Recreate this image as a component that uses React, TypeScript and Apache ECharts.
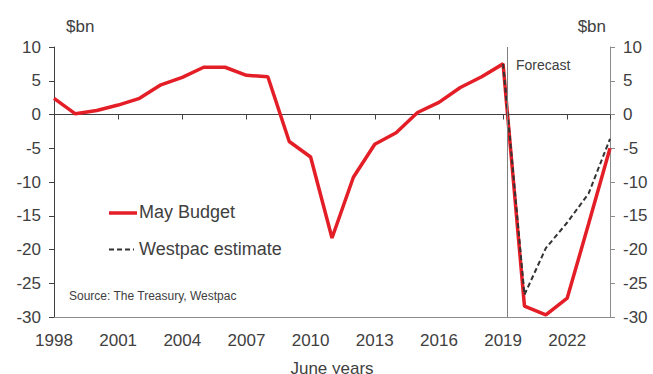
import React, { useEffect, useRef } from "react";
import * as echarts from "echarts";

const years = [
  1998, 1999, 2000, 2001, 2002, 2003, 2004, 2005, 2006, 2007, 2008, 2009, 2010,
  2011, 2012, 2013, 2014, 2015, 2016, 2017, 2018, 2019, 2020, 2021, 2022, 2023,
  2024,
];
const mayBudget = [
  2.4, 0.1, 0.6, 1.4, 2.4, 4.4, 5.5, 7.0, 7.0, 5.8, 5.6, -4.0, -6.3, -18.3,
  -9.3, -4.4, -2.7, 0.3, 1.8, 4.0, 5.6, 7.5, -28.4, -29.7, -27.2, -16.2, -5.0,
];
const westpacYears = [2019, 2020, 2021, 2022, 2023, 2024];
const westpacEstimate = [7.5, -26.7, -19.8, -16.0, -11.7, -3.6];
const forecastStart = 2019.2;
const yTicks = { min: -30, max: 10, interval: 5 };
const legendNames = ["May Budget", "Westpac estimate"];

const FONT = "'Liberation Sans', Arial, sans-serif";
const TXT = "#404040";
const RED = "#e41e26";
const DARK = "#333333";

export default function App() {
  const ref = useRef<HTMLDivElement>(null);
  useEffect(() => {
    if (!ref.current) return;
    const chart = echarts.init(ref.current, null, { renderer: "svg" });
    const yAxisBase = {
      type: "value",
      min: yTicks.min,
      max: yTicks.max,
      interval: yTicks.interval,
      splitLine: { show: false },
      axisTick: { show: true, length: 5 },
      axisLabel: { fontSize: 17, color: TXT, fontFamily: FONT, margin: 13 },
    };
    chart.setOption({
      animation: false,
      textStyle: { fontFamily: FONT },
      grid: { left: 54, right: 43, top: 47, bottom: 57, outerBoundsMode: "none", containLabel: false },
      xAxis: [
        {
          type: "value",
          min: 1998,
          max: 2024,
          interval: 3,
          position: "bottom",
          axisLine: { onZero: false, lineStyle: { color: "#8c8c8c", width: 1 } },
          axisTick: { show: false },
          splitLine: { show: false },
          axisLabel: {
            fontSize: 17,
            color: TXT,
            fontFamily: FONT,
            margin: 15,
            showMaxLabel: false,
            formatter: (v: number) => String(v),
          },
          name: "June years",
          nameLocation: "middle",
          nameGap: 43,
          nameTextStyle: { fontSize: 17, color: TXT, fontFamily: FONT },
        },
        {
          type: "value",
          min: 1998,
          max: 2024,
          interval: 3,
          position: "bottom",
          axisLine: { onZero: true, lineStyle: { color: "#404040", width: 1 } },
          axisTick: { show: true, length: 5, lineStyle: { color: "#404040" } },
          splitLine: { show: false },
          axisLabel: { show: false },
        },
      ],
      yAxis: [
        {
          ...yAxisBase,
          position: "left",
          name: "$bn",
          nameLocation: "end",
          nameGap: 12,
          nameTextStyle: { fontSize: 17, color: TXT, fontFamily: FONT, align: "left", padding: [0, 0, 0, 12] },
          axisLine: { show: true, lineStyle: { color: "#404040" } },
        },
        {
          ...yAxisBase,
          position: "right",
          name: "$bn",
          nameLocation: "end",
          nameGap: 12,
          nameTextStyle: { fontSize: 17, color: TXT, fontFamily: FONT, align: "right", padding: [0, 4, 0, 0] },
          axisLine: { show: true, lineStyle: { color: "#8c8c8c" } },
          axisTick: { show: true, length: 5, lineStyle: { color: "#8c8c8c" } },
        },
      ],
      graphic: [
        {
          type: "line",
          shape: { x1: 109, y1: 213, x2: 137, y2: 213 },
          style: { stroke: RED, lineWidth: 3.5 },
        },
        {
          type: "text",
          left: 139,
          top: 203,
          style: { text: legendNames[0], fontSize: 18, fill: TXT, fontFamily: FONT },
        },
        {
          type: "line",
          shape: { x1: 109, y1: 249.5, x2: 134, y2: 249.5 },
          style: { stroke: DARK, lineWidth: 2, lineDash: [5, 3] },
        },
        {
          type: "text",
          left: 139,
          top: 239.5,
          style: { text: legendNames[1], fontSize: 18, fill: TXT, fontFamily: FONT },
        },
        {
          type: "text",
          left: 69,
          top: 290,
          style: { text: "Source: The Treasury, Westpac", fontSize: 12, fill: TXT, fontFamily: FONT },
        },
        {
          type: "text",
          left: 516,
          top: 58,
          style: { text: "Forecast", fontSize: 14, fill: TXT, fontFamily: FONT },
        },
      ],
      series: [
        {
          name: legendNames[0],
          type: "line",
          xAxisIndex: 0,
          yAxisIndex: 0,
          symbol: "none",
          data: years.map((y, i) => [y, mayBudget[i]]),
          lineStyle: { color: RED, width: 3.5 },
          itemStyle: { color: RED },
          z: 3,
          markLine: {
            silent: true,
            symbol: "none",
            label: { show: false },
            lineStyle: { color: "#7f7f7f", type: "solid", width: 1 },
            data: [{ xAxis: forecastStart }],
          },
        },
        {
          name: legendNames[1],
          type: "line",
          xAxisIndex: 0,
          yAxisIndex: 0,
          symbol: "none",
          data: westpacYears.map((y, i) => [y, westpacEstimate[i]]),
          lineStyle: { color: DARK, width: 2, type: [5, 3] },
          itemStyle: { color: DARK },
          z: 4,
        },
      ],
    });
    return () => chart.dispose();
  }, []);
  return <div ref={ref} style={{ width: 653, height: 374, position: "absolute", left: 0, top: 0 }} />;
}
